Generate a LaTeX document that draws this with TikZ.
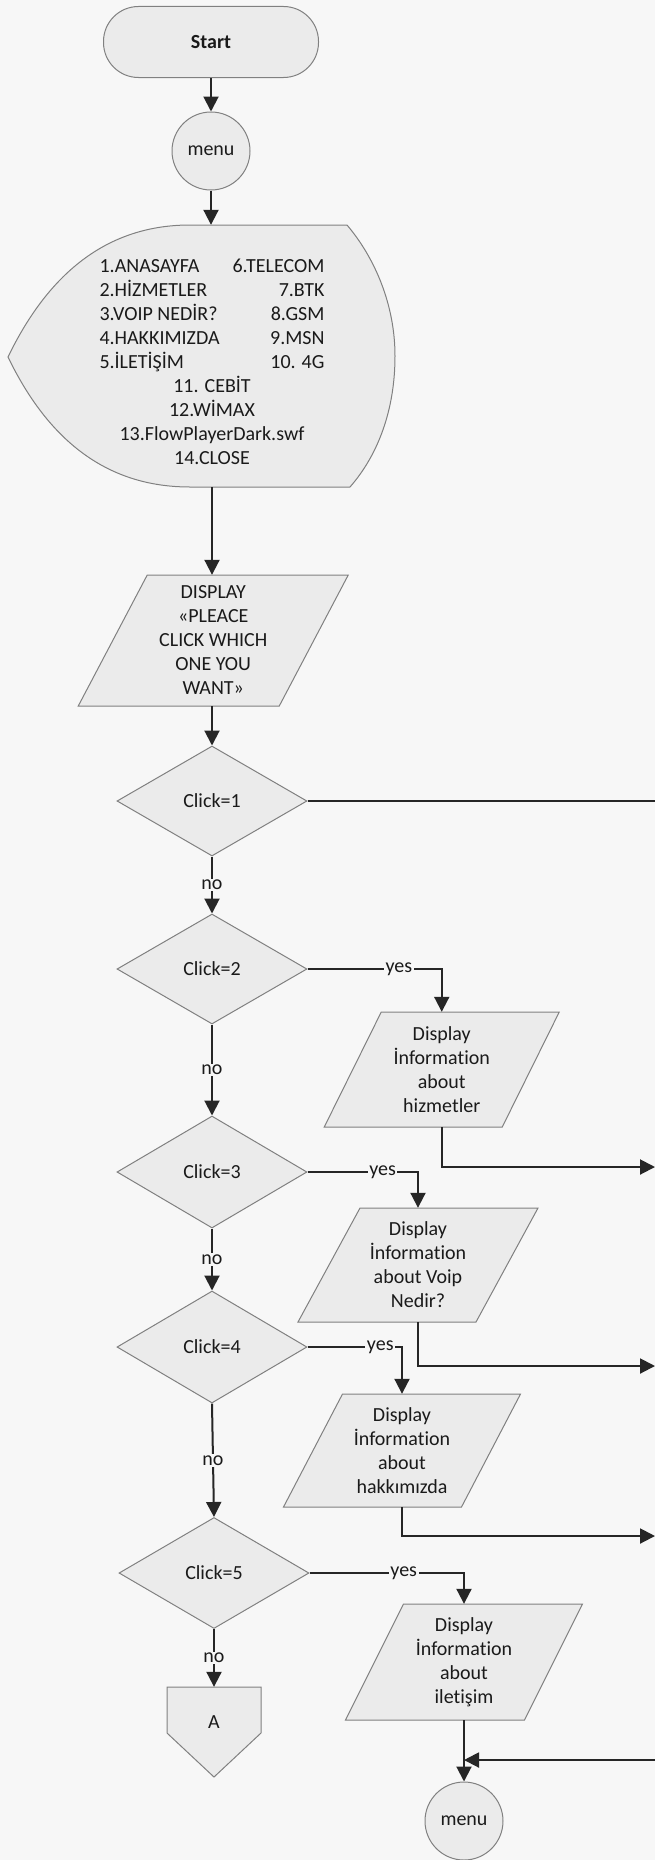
\documentclass[tikz,border=0pt]{standalone}
\usepackage{fontspec}
\setmainfont{Carlito}[Ligatures=NoCommon]
\usetikzlibrary{arrows.meta,shapes.geometric}
\definecolor{bgc}{HTML}{F7F7F7}
\definecolor{shapefill}{HTML}{EBEBEB}
\definecolor{shapeline}{HTML}{808080}
\definecolor{connc}{HTML}{262626}
\definecolor{txt}{HTML}{1A1A1A}
\newcommand\myparal[5]{% cx cy w h slant
  \filldraw[outl] ({#1-#3/2+#5/2},{#2-#4/2}) -- ({#1+#3/2+#5/2},{#2-#4/2}) -- ({#1+#3/2-#5/2},{#2+#4/2}) -- ({#1-#3/2-#5/2},{#2+#4/2}) -- cycle;}
\begin{document}
\begin{tikzpicture}[x=1pt,y=-1pt,
  outl/.style={draw=shapeline, fill=shapefill, line width=1pt},
  box/.style={font=\fontsize{20}{24}\selectfont, text=txt, align=center, inner sep=0pt},
  shp/.style={box, draw=shapeline, fill=shapefill, line width=1pt},
  conn/.style={draw=connc, line width=2pt},
  arr/.style={conn, -{Triangle[length=15pt,width=15pt]}},
  lbl/.style={font=\fontsize{20}{24}\selectfont, text=txt, fill=bgc, inner sep=1.5pt},
]
\fill[bgc] (0,0) rectangle (655,1860);
\useasboundingbox (0,0) rectangle (655,1860);

% start and menu
\node[shp, rounded corners=35pt, minimum width=215pt, minimum height=71pt] (start) at (211,42) {\bfseries Start};
\node[shp, circle, minimum size=78pt] (menu1) at (211,151) {menu};

% display shape
\filldraw[outl] (190,225) -- (347,225) .. controls (375,258) and (395,305) .. (395,356) .. controls (395,410) and (378,455) .. (350,487) -- (190,487) .. controls (110,487) and (50,444) .. (8,357) .. controls (50,270) and (110,225) .. (190,225) -- cycle;
\node[minimum width=200pt, minimum height=262pt, inner sep=0pt] (disp) at (212,356) {};
\node[box] (disptext) at (212,362) {%
\makebox[225pt]{1.ANASAYFA\hfill 6.TELECOM}\\
\makebox[225pt]{2.HİZMETLER\hfill 7.BTK}\\
\makebox[225pt]{3.VOIP NEDİR?\hfill 8.GSM}\\
\makebox[225pt]{4.HAKKIMIZDA\hfill 9.MSN}\\
\makebox[225pt]{5.İLETİŞİM\hfill 10. 4G}\\
11. CEBİT\\
12.WİMAX\\
13.FlowPlayerDark.swf\\
14.CLOSE};

% first parallelogram
\myparal{213.25}{640.5}{201}{131}{69}
\node[box, minimum width=201pt, minimum height=131pt] (p0) at (213.25,640.5) {DISPLAY\\«PLEACE\\CLICK WHICH\\ONE YOU\\WANT»};

% decisions
\node[shp, diamond, minimum width=190pt, minimum height=110pt] (d1) at (212,801) {Click=1};
\node[shp, diamond, minimum width=190pt, minimum height=110pt] (d2) at (212,969) {Click=2};
\node[shp, diamond, minimum width=190pt, minimum height=112pt] (d3) at (212,1172) {Click=3};
\node[shp, diamond, minimum width=190pt, minimum height=112pt] (d4) at (212,1347) {Click=4};
\node[shp, diamond, minimum width=190pt, minimum height=111pt] (d5) at (214,1573) {Click=5};

% output parallelograms
\myparal{441.75}{1069.5}{178}{115}{57}
\node[box, minimum width=178pt, minimum height=115pt] (p2) at (441.75,1069.5) {Display\\İnformation\\about\\hizmetler};
\myparal{418}{1265}{178}{114}{62}
\node[box, minimum width=178pt, minimum height=114pt] (p3) at (418,1265) {Display\\İnformation\\about Voip\\Nedir?};
\myparal{402}{1450.5}{178}{113}{59}
\node[box, minimum width=178pt, minimum height=113pt] (p4) at (402,1450.5) {Display\\İnformation\\about\\hakkımızda};
\myparal{464}{1662}{179}{116}{58}
\node[box, minimum width=179pt, minimum height=116pt] (p5) at (464,1662) {Display\\İnformation\\about\\iletişim};

% off-page connector
\filldraw[outl] (167,1687) -- (261,1687) -- (261,1733) -- (214,1777) -- (167,1733) -- cycle;
\node[box, minimum width=94pt, minimum height=70pt] (A) at (214,1722) {A};

% second menu
\node[shp, circle, minimum size=78pt] (menu2) at (464,1821) {menu};

% free ends at the right edge
\coordinate (e1) at (655,801);
\coordinate (r2) at (655,1167);
\coordinate (r3) at (655,1366);
\coordinate (r4) at (655,1536);
\coordinate (r5) at (655,1760);

% connectors
\draw[arr] (start.south) -- (start.south |- menu1.north);
\draw[arr] (menu1.south) -- (menu1.south |- disp.north);
\draw[arr] (disp.south) -- (disp.south |- p0.north);
\draw[arr] (d1.north |- p0.south) -- (d1.north);
\draw[conn] (d1.east) -- (e1);
\draw[arr] (d1.south) -- node[lbl]{no} (d2.north);
\draw[arr] (d2.east) -- node[lbl,pos=0.68]{yes} (d2.east -| p2.north) -- (p2.north);
\draw[arr] (p2.south) |- (r2);
\draw[arr] (d2.south) -- node[lbl]{no} (d3.north);
\draw[arr] (d3.east) -- node[lbl,pos=0.68]{yes} (d3.east -| p3.north) -- (p3.north);
\draw[arr] (p3.south) |- (r3);
\draw[arr] (d3.south) -- node[lbl]{no} (d4.north);
\draw[arr] (d4.east) -- node[lbl,pos=0.77]{yes} (d4.east -| p4.north) -- (p4.north);
\draw[arr] (p4.south) |- (r4);
\draw[arr] (d4.south) -- node[lbl]{no} (d5.north);
\draw[arr] (d5.east) -- node[lbl,pos=0.61]{yes} (d5.east -| p5.north) -- (p5.north);
\draw[arr] (p5.south) -- (menu2.north);
\draw[arr] (r5) -- (p5.south |- r5);
\draw[arr] (d5.south) -- node[lbl]{no} (A.north);
\end{tikzpicture}
\end{document}
